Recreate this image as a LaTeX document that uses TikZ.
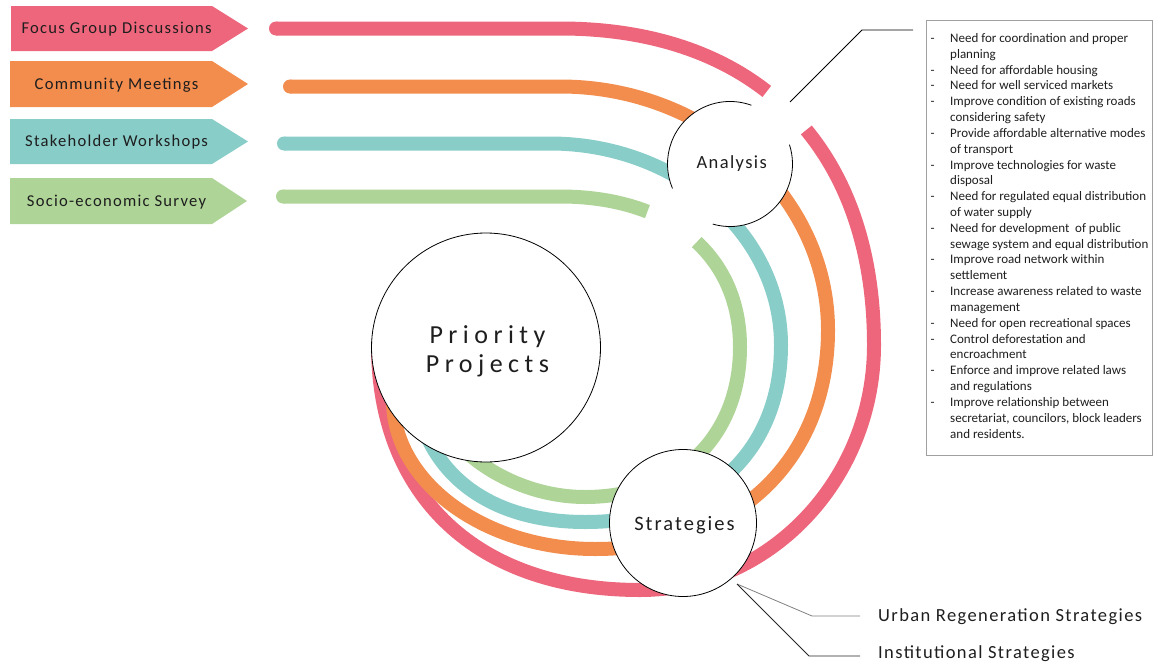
\documentclass[tikz,border=0pt]{standalone}
\usepackage{fontspec}
\setmainfont{Carlito}
\newfontfamily\spacedfont[LetterSpace=7.5]{Carlito}
\newfontfamily\ppfont[LetterSpace=21]{Carlito}
\newfontfamily\stratfont[LetterSpace=10]{Carlito}
\definecolor{bpink}{RGB}{238,102,124}
\definecolor{borange}{RGB}{242,141,78}
\definecolor{bteal}{RGB}{137,205,201}
\definecolor{bgreen}{RGB}{174,212,151}
\definecolor{txt}{RGB}{30,30,30}
\definecolor{boxgray}{RGB}{160,160,160}
\begin{document}
\begin{tikzpicture}[x=1pt,y=-1pt,
  band/.style={line width=14pt, line cap=butt, line join=round},
  lbl/.style={font=\spacedfont\fontsize{16.6}{20}\selectfont, text=txt, anchor=base, inner sep=0pt},
  item/.style={font=\fontsize{13}{15.8}\selectfont, text=txt, anchor=base west, inner sep=0pt},
  dashmark/.style={font=\fontsize{13}{15.8}\selectfont, text=txt, anchor=base, inner sep=0pt},
  outline/.style={draw=black, line width=0.8pt},
  bottomlbl/.style={font=\spacedfont\fontsize{18.5}{22}\selectfont, text=txt, anchor=base west, inner sep=0pt}
]
\useasboundingbox (0,0) rectangle (1154,664);

% ---- source arrows ----
\fill[bpink]   (11,6)   -- (212,6)   -- (248,28.5)  -- (212,51)  -- (11,51)  -- cycle;
\fill[borange] (10,61)  -- (212,61)  -- (248,84)    -- (212,107) -- (10,107) -- cycle;
\fill[bteal]   (10,119) -- (212,119) -- (248,141.5) -- (212,164) -- (10,164) -- cycle;
\fill[bgreen]  (10,178) -- (212,178) -- (247,201)   -- (212,224) -- (10,224) -- cycle;
\node[lbl] (fgd) at (116.6,33.8)  {Focus Group Discussions};
\node[lbl] (cm)  at (116.6,89.3)  {Community Meetings};
\node[lbl] (sw)  at (116.6,146.8) {Stakeholder Workshops};
\node[lbl] (ses) at (116.6,206.3) {Socio-economic Survey};

% ---- bands ----
% pink
\draw[band, bpink] (276,28.5) -- (560,28.5) .. controls (644.7,28.5) and (714.6,50.6) .. (766.8,91.45);
\fill[bpink] (276,28.5) circle[radius=7pt];
\draw[band, bpink] (806.3,129.96) .. controls (850.3,183.4) and (874,256.35) .. (874,345)
  .. controls (874,480) and (769,590) .. (640,590)
  .. controls (478,590) and (378,497) .. (378,345);
% orange
\draw[band, borange] (290,86.5) -- (560,86.5) .. controls (707,86.5) and (828,196) .. (828,330)
  .. controls (828,461) and (735,549) .. (595,549)
  .. controls (484,549) and (393,482) .. (393,400) -- (393,385);
\fill[borange] (290,86.5) circle[radius=7pt];
% teal
\draw[band, bteal] (284,143.5) -- (550,143.5) .. controls (677,143.5) and (781,234) .. (781,345)
  .. controls (781,450.6) and (708.6,522) .. (585,522)
  .. controls (510,522) and (450,492) .. (425,432);
\fill[bteal] (284,143.5) circle[radius=7pt];
% green
\draw[band, bgreen] (283,196.5) -- (560,196.5) .. controls (593,196.5) and (622.4,201.8) .. (647.4,211.6);
\fill[bgreen] (283,196.5) circle[radius=7pt];
\draw[band, bgreen] (696.7,242.1) .. controls (724.5,267.9) and (740,303.8) .. (740,347)
  .. controls (740,437) and (678,497) .. (585,497)
  .. controls (530,497) and (480,470) .. (455,440);

% ---- circles ----
\node[circle, draw=black, line width=0.8pt, fill=white, minimum size=229pt, inner sep=0pt] (pp) at (486,347.5) {};
\node[font=\ppfont\fontsize{26}{29}\selectfont, text=txt, anchor=base, inner sep=0pt] (ppa) at (487.5,343.3) {Priority};
\node[font=\ppfont\fontsize{26}{29}\selectfont, text=txt, anchor=base, inner sep=0pt] (ppb) at (487.5,372.7) {Projects};

\node[circle, fill=white, minimum size=125pt, inner sep=0pt] (ana) at (730,164) {};
\draw[outline] (ana.center) ++(70:62.5pt) arc[start angle=70, end angle=203, radius=62.5pt];
\draw[outline] (ana.center) ++(254:62.5pt) arc[start angle=254, end angle=378, radius=62.5pt];
\node[font=\spacedfont\fontsize{18.5}{22}\selectfont, text=txt, anchor=base, inner sep=0pt] (anat) at (731.7,168.3) {Analysis};

\node[circle, draw=black, line width=0.8pt, fill=white, minimum size=147pt, inner sep=0pt] (str) at (683,523) {};
\node[font=\stratfont\fontsize{20.5}{24}\selectfont, text=txt, anchor=base, inner sep=0pt] (strt) at (684.5,530) {Strategies};

% ---- needs box ----
\node[draw=boxgray, line width=0.8pt, minimum width=226pt, minimum height=435pt, anchor=north west, inner sep=0pt] (box) at (926,20) {};
\foreach \t [count=\i from 0] in {
  {Need for coordination and proper},
  {planning},
  {Need for affordable housing},
  {Need for well serviced markets},
  {Improve condition of existing roads},
  {considering safety},
  {Provide affordable alternative modes},
  {of transport},
  {Improve technologies for waste},
  {disposal},
  {Need for regulated equal distribution},
  {of water supply},
  {Need for development~ of public},
  {sewage system and equal distribution},
  {Improve road network within},
  {settlement},
  {Increase awareness related to waste},
  {management},
  {Need for open recreational spaces},
  {Control deforestation and},
  {encroachment},
  {Enforce and improve related laws},
  {and regulations},
  {Improve relationship between},
  {secretariat, councilors, block leaders},
  {and residents.}}
  \node[item] (L\i) at (950,{42.5+15.82*\i}) {\t};
\foreach \i in {0,2,3,4,6,8,10,12,14,16,18,19,21,23}
  \node[dashmark] (D\i) at (932.5,{42.5+15.82*\i}) {-};

% ---- leader lines ----
\coordinate (ta) at (790,102);
\coordinate (tb) at (862,30);
\coordinate (tc) at (913,30);
\draw[black, line width=0.8pt] (ta) -- (tb) -- (tc);

\coordinate (s0) at (737,584);
\coordinate (u1) at (812,616);
\coordinate (u2) at (860,616);
\coordinate (i1) at (809,656);
\coordinate (i2) at (860,656);
\draw[gray, line width=0.8pt] (s0) -- (u1) -- (u2);
\draw[black!85, line width=0.8pt] (s0) -- (i1) -- (i2);
\node[bottomlbl] (urs) at (878,621.5) {Urban Regeneration Strategies};
\node[bottomlbl] (ins) at (878,658.5) {Institutional Strategies};
\end{tikzpicture}
\end{document}
